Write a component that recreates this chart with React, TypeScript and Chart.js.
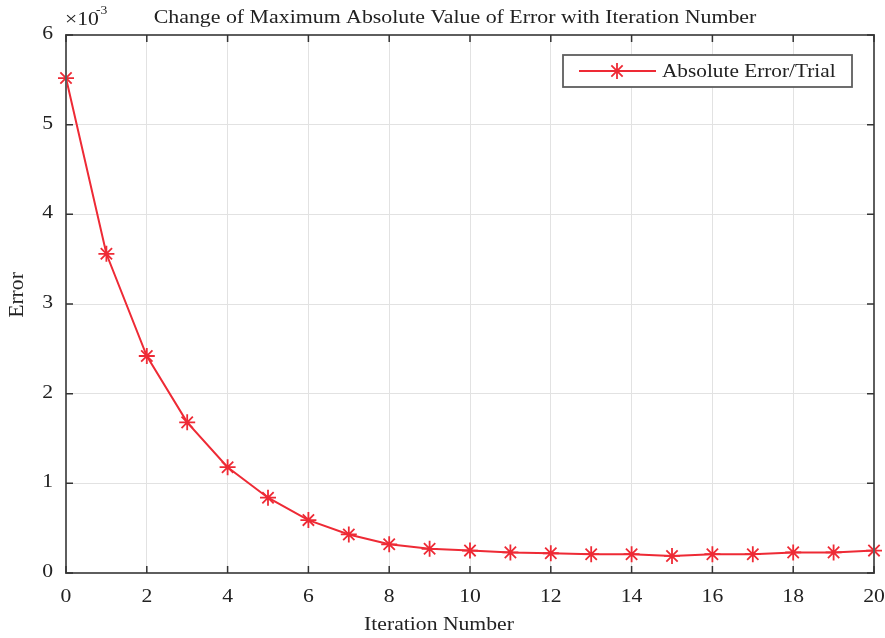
import React, { useEffect, useRef } from "react";
import { Chart, registerables } from "chart.js";
Chart.register(...registerables);

const iterations = [0, 1, 2, 3, 4, 5, 6, 7, 8, 9, 10, 11, 12, 13, 14, 15, 16, 17, 18, 19, 20];
const errorValues = [5.52, 3.56, 2.42, 1.68, 1.18, 0.84, 0.59, 0.43, 0.32, 0.27, 0.25, 0.23, 0.22, 0.21, 0.21, 0.19, 0.21, 0.21, 0.23, 0.23, 0.25];
const xTicks = [0, 2, 4, 6, 8, 10, 12, 14, 16, 18, 20];
const yTicks = [0, 1, 2, 3, 4, 5, 6];
const titleText = "Change of Maximum Absolute Value of Error with Iteration Number";
const xTitle = "Iteration Number";
const yTitle = "Error";
const seriesLabel = "Absolute Error/Trial";

const RED = "#ee2a35";
const FONT = "'Liberation Serif', 'DejaVu Serif', serif";
const SX = 1.14;

function txt(ctx: any, s: string, x: number, y: number, align: string, size: number, sx = SX) {
  ctx.save();
  ctx.translate(x, y);
  ctx.scale(sx, 1);
  ctx.font = `${size}px ${FONT}`;
  ctx.textAlign = align;
  ctx.fillText(s, 0, 0);
  ctx.restore();
}

const decor = {
  id: "decor",
  afterDraw(chart: any) {
    const { ctx, chartArea: a, scales } = chart;
    const xs = scales.x, ys = scales.y;
    ctx.save();
    // box
    ctx.strokeStyle = "#5e5e5e";
    ctx.lineWidth = 2;
    ctx.strokeRect(a.left, a.top, a.right - a.left, a.bottom - a.top);
    // inward ticks
    ctx.lineWidth = 1.5;
    ctx.strokeStyle = "#333";
    ctx.beginPath();
    xTicks.forEach((t) => {
      const px = xs.getPixelForValue(t);
      ctx.moveTo(px, a.bottom); ctx.lineTo(px, a.bottom - 7);
      ctx.moveTo(px, a.top); ctx.lineTo(px, a.top + 7);
    });
    yTicks.forEach((t) => {
      const py = ys.getPixelForValue(t);
      ctx.moveTo(a.left, py); ctx.lineTo(a.left + 7, py);
      ctx.moveTo(a.right, py); ctx.lineTo(a.right - 7, py);
    });
    ctx.stroke();
    ctx.fillStyle = "#222";
    ctx.textBaseline = "middle";
    // tick labels
    xTicks.forEach((t) => txt(ctx, String(t), xs.getPixelForValue(t), 597, "center", 19));
    yTicks.forEach((t) => txt(ctx, String(t), 53, ys.getPixelForValue(t) - 1, "right", 19));
    // title
    txt(ctx, titleText, 455, 18, "center", 19, 1.15);
    // x title
    txt(ctx, xTitle, 439, 625, "center", 19);
    // y title
    ctx.save();
    ctx.translate(18, 295);
    ctx.scale(1.1, SX);
    ctx.rotate(-Math.PI / 2);
    ctx.font = `19px ${FONT}`;
    ctx.textAlign = "center";
    ctx.fillText(yTitle, 0, 0);
    ctx.restore();
    // exponent
    ctx.textBaseline = "alphabetic";
    txt(ctx, "\u00d710", 65, 25, "left", 19);
    txt(ctx, "-3", 96, 14, "left", 12);
    // legend
    const lx = 563, ly = 55, lw = 289, lh = 32;
    ctx.fillStyle = "#fff";
    ctx.fillRect(lx, ly, lw, lh);
    ctx.strokeStyle = "#5e5e5e";
    ctx.lineWidth = 1.8;
    ctx.strokeRect(lx, ly, lw, lh);
    const my = ly + lh / 2;
    ctx.strokeStyle = RED;
    ctx.lineWidth = 2;
    ctx.beginPath();
    ctx.moveTo(579, my); ctx.lineTo(656, my);
    ctx.stroke();
    ctx.lineWidth = 1.8;
    const r = 8;
    ctx.beginPath();
    for (let k = 0; k < 4; k++) {
      const ang = (k * Math.PI) / 4;
      ctx.moveTo(617 - r * Math.cos(ang), my - r * Math.sin(ang));
      ctx.lineTo(617 + r * Math.cos(ang), my + r * Math.sin(ang));
    }
    ctx.stroke();
    ctx.fillStyle = "#222";
    ctx.textBaseline = "middle";
    txt(ctx, seriesLabel, 662, my + 1, "left", 19, 1.12);
    ctx.restore();
  },
};

export default function App() {
  const ref = useRef<HTMLCanvasElement>(null);
  useEffect(() => {
    if (!ref.current) return;
    const chart = new Chart(ref.current, {
      type: "line",
      data: {
        datasets: [
          {
            label: seriesLabel,
            data: iterations.map((x, i) => ({ x, y: errorValues[i] })),
            borderColor: RED,
            backgroundColor: RED,
            borderWidth: 2,
            pointStyle: "star",
            pointRadius: 8,
            pointBorderWidth: 1.8,
            pointBorderColor: RED,
            tension: 0,
            clip: false,
          },
        ],
      },
      options: {
        animation: false,
        responsive: false,
        layout: { padding: { top: 35, right: 11, left: 0, bottom: 0 } },
        plugins: { legend: { display: false }, title: { display: false }, tooltip: { enabled: false } },
        scales: {
          x: {
            type: "linear",
            min: 0,
            max: 20,
            afterBuildTicks: (s: any) => { s.ticks = xTicks.map((v) => ({ value: v })); },
            afterFit: (s: any) => { s.height = 65; s.paddingLeft = 0; s.paddingRight = 0; },
            ticks: { display: false },
            grid: { color: "#e2e2e2", lineWidth: 1, drawTicks: false },
            border: { display: false },
          },
          y: {
            type: "linear",
            min: 0,
            max: 6,
            afterBuildTicks: (s: any) => { s.ticks = yTicks.map((v) => ({ value: v })); },
            afterFit: (s: any) => { s.width = 66; s.paddingTop = 0; s.paddingBottom = 0; },
            ticks: { display: false },
            grid: { color: "#e2e2e2", lineWidth: 1, drawTicks: false },
            border: { display: false },
          },
        },
      },
      plugins: [decor],
    });
    return () => chart.destroy();
  }, []);
  return (
    <div style={{ position: "fixed", left: 0, top: 0, width: 885, height: 638, background: "#fff" }}>
      <canvas ref={ref} width={885} height={638} style={{ width: 885, height: 638 }} />
    </div>
  );
}
